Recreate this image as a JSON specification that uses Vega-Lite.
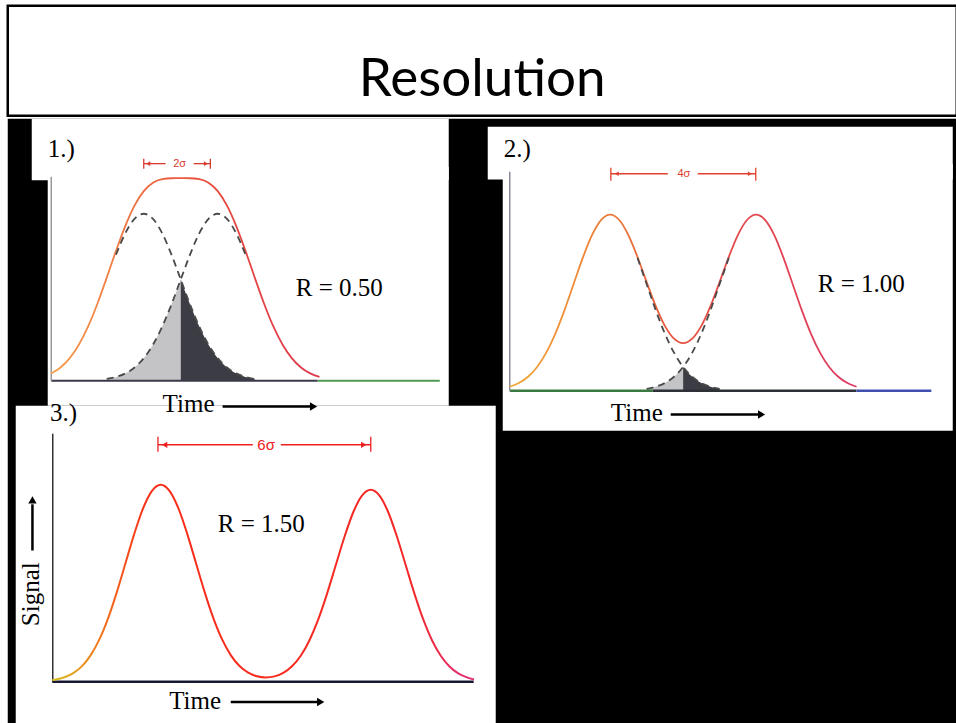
{
  "$schema": "https://vega.github.io/schema/vega-lite/v6.json",
  "background": "white",
  "padding": {"left": 5.75, "top": 3.75, "right": 0, "bottom": 0},
  "spacing": 0,
  "config": {"view": {"stroke": null}, "concat": {"spacing": 0}},
  "datasets": {
    "p1_sum": [
      {"t": 0, "s": 0.0439}, {"t": 0.25, "s": 0.0797}, {"t": 0.5, "s": 0.1356}, {"t": 0.75, "s": 0.2172},
      {"t": 1.0, "s": 0.3269}, {"t": 1.25, "s": 0.4629}, {"t": 1.5, "s": 0.6176}, {"t": 1.75, "s": 0.7776},
      {"t": 2.0, "s": 0.9264}, {"t": 2.25, "s": 1.0488}, {"t": 2.5, "s": 1.1353}, {"t": 2.75, "s": 1.1855},
      {"t": 3.0, "s": 1.2072}, {"t": 3.25, "s": 1.2126}, {"t": 3.5, "s": 1.213}, {"t": 3.75, "s": 1.2126},
      {"t": 4.0, "s": 1.2072}, {"t": 4.25, "s": 1.1855}, {"t": 4.5, "s": 1.1353}, {"t": 4.75, "s": 1.0488},
      {"t": 5.0, "s": 0.9264}, {"t": 5.25, "s": 0.7776}, {"t": 5.5, "s": 0.6176}, {"t": 5.75, "s": 0.4629},
      {"t": 6.0, "s": 0.3269}, {"t": 6.25, "s": 0.2172}, {"t": 6.5, "s": 0.1356}, {"t": 6.75, "s": 0.0797},
      {"t": 7.0, "s": 0.0439}, {"t": 7.25, "s": 0.0228}
    ],
    "p1_g1": [
      {"t": 1.75, "s": 0.7548}, {"t": 2.0, "s": 0.8825}, {"t": 2.25, "s": 0.9692}, {"t": 2.5, "s": 1},
      {"t": 2.75, "s": 0.9692}, {"t": 3.0, "s": 0.8825}, {"t": 3.25, "s": 0.7548}, {"t": 3.5, "s": 0.6065},
      {"t": 3.75, "s": 0.4578}, {"t": 4.0, "s": 0.3247}, {"t": 4.25, "s": 0.2163}, {"t": 4.5, "s": 0.1353},
      {"t": 4.75, "s": 0.0796}, {"t": 5.0, "s": 0.0439}, {"t": 5.25, "s": 0.0228}, {"t": 5.5, "s": 0.0111}
    ],
    "p1_g2": [
      {"t": 1.5, "s": 0.0111}, {"t": 1.75, "s": 0.0228}, {"t": 2.0, "s": 0.0439}, {"t": 2.25, "s": 0.0796},
      {"t": 2.5, "s": 0.1353}, {"t": 2.75, "s": 0.2163}, {"t": 3.0, "s": 0.3247}, {"t": 3.25, "s": 0.4578},
      {"t": 3.5, "s": 0.6065}, {"t": 3.75, "s": 0.7548}, {"t": 4.0, "s": 0.8825}, {"t": 4.25, "s": 0.9692},
      {"t": 4.5, "s": 1}, {"t": 4.75, "s": 0.9692}, {"t": 5.0, "s": 0.8825}, {"t": 5.25, "s": 0.7548}
    ],
    "p1_light": [
      {"t": 1.5, "s": 0.0111}, {"t": 1.75, "s": 0.0228}, {"t": 2.0, "s": 0.0439}, {"t": 2.25, "s": 0.0796},
      {"t": 2.5, "s": 0.1353}, {"t": 2.75, "s": 0.2163}, {"t": 3.0, "s": 0.3247}, {"t": 3.25, "s": 0.4578},
      {"t": 3.5, "s": 0.6065}
    ],
    "p1_dark": [
      {"t": 3.5, "s": 0.6065}, {"t": 3.75, "s": 0.4578}, {"t": 4.0, "s": 0.3247}, {"t": 4.25, "s": 0.2163},
      {"t": 4.5, "s": 0.1353}, {"t": 4.75, "s": 0.0796}, {"t": 5.0, "s": 0.0439}, {"t": 5.25, "s": 0.0228},
      {"t": 5.5, "s": 0.0111}
    ],
    "p2_sum": [
      {"t": 0, "s": 0.0228}, {"t": 0.25, "s": 0.0439}, {"t": 0.5, "s": 0.0796}, {"t": 0.75, "s": 0.1353},
      {"t": 1.0, "s": 0.2163}, {"t": 1.25, "s": 0.3247}, {"t": 1.5, "s": 0.4578}, {"t": 1.75, "s": 0.6065},
      {"t": 2.0, "s": 0.7548}, {"t": 2.25, "s": 0.8825}, {"t": 2.5, "s": 0.9693}, {"t": 2.75, "s": 1.0003},
      {"t": 3.0, "s": 0.9701}, {"t": 3.25, "s": 0.8847}, {"t": 3.5, "s": 0.7599}, {"t": 3.75, "s": 0.6176},
      {"t": 4.0, "s": 0.4806}, {"t": 4.25, "s": 0.3686}, {"t": 4.5, "s": 0.2959}, {"t": 4.75, "s": 0.2706},
      {"t": 5.0, "s": 0.2959}, {"t": 5.25, "s": 0.3686}, {"t": 5.5, "s": 0.4806}, {"t": 5.75, "s": 0.6176},
      {"t": 6.0, "s": 0.7599}, {"t": 6.25, "s": 0.8847}, {"t": 6.5, "s": 0.9701}, {"t": 6.75, "s": 1.0003},
      {"t": 7.0, "s": 0.9693}, {"t": 7.25, "s": 0.8825}, {"t": 7.5, "s": 0.7548}, {"t": 7.75, "s": 0.6065},
      {"t": 8.0, "s": 0.4578}, {"t": 8.25, "s": 0.3247}, {"t": 8.5, "s": 0.2163}, {"t": 8.75, "s": 0.1353},
      {"t": 9.0, "s": 0.0796}, {"t": 9.25, "s": 0.0439}, {"t": 9.5, "s": 0.0228}
    ],
    "p2_g1": [
      {"t": 3.5, "s": 0.7548}, {"t": 3.75, "s": 0.6065}, {"t": 4.0, "s": 0.4578}, {"t": 4.25, "s": 0.3247},
      {"t": 4.5, "s": 0.2163}, {"t": 4.75, "s": 0.1353}, {"t": 5.0, "s": 0.0796}, {"t": 5.25, "s": 0.0439},
      {"t": 5.5, "s": 0.0228}, {"t": 5.75, "s": 0.0111}
    ],
    "p2_g2": [
      {"t": 3.75, "s": 0.0111}, {"t": 4.0, "s": 0.0228}, {"t": 4.25, "s": 0.0439}, {"t": 4.5, "s": 0.0796},
      {"t": 4.75, "s": 0.1353}, {"t": 5.0, "s": 0.2163}, {"t": 5.25, "s": 0.3247}, {"t": 5.5, "s": 0.4578},
      {"t": 5.75, "s": 0.6065}, {"t": 6.0, "s": 0.7548}
    ],
    "p2_light": [
      {"t": 3.75, "s": 0.0111}, {"t": 4.0, "s": 0.0228}, {"t": 4.25, "s": 0.0439}, {"t": 4.5, "s": 0.0796},
      {"t": 4.75, "s": 0.1353}
    ],
    "p2_dark": [
      {"t": 4.75, "s": 0.1353}, {"t": 5.0, "s": 0.0796}, {"t": 5.25, "s": 0.0439}, {"t": 5.5, "s": 0.0228},
      {"t": 5.75, "s": 0.0111}
    ],
    "p3_sum": [
      {"t": -0.1, "s": 0.0083}, {"t": 0, "s": 0.0112}, {"t": 0.25, "s": 0.023}, {"t": 0.5, "s": 0.0443},
      {"t": 0.75, "s": 0.0804}, {"t": 1.0, "s": 0.1367}, {"t": 1.25, "s": 0.2185}, {"t": 1.5, "s": 0.3279},
      {"t": 1.75, "s": 0.4624}, {"t": 2.0, "s": 0.6126}, {"t": 2.25, "s": 0.7623}, {"t": 2.5, "s": 0.8913},
      {"t": 2.75, "s": 0.9789}, {"t": 3.0, "s": 1.01}, {"t": 3.25, "s": 0.9789}, {"t": 3.5, "s": 0.8913},
      {"t": 3.75, "s": 0.7623}, {"t": 4.0, "s": 0.6126}, {"t": 4.25, "s": 0.4624}, {"t": 4.5, "s": 0.3279},
      {"t": 4.75, "s": 0.2185}, {"t": 5.0, "s": 0.1367}, {"t": 5.25, "s": 0.0804}, {"t": 5.5, "s": 0.0465},
      {"t": 5.75, "s": 0.028}, {"t": 6.0, "s": 0.0221}, {"t": 6.25, "s": 0.0277}, {"t": 6.5, "s": 0.0454},
      {"t": 6.75, "s": 0.0793}, {"t": 7.0, "s": 0.1333}, {"t": 7.25, "s": 0.2131}, {"t": 7.5, "s": 0.3198},
      {"t": 7.75, "s": 0.4509}, {"t": 8.0, "s": 0.5974}, {"t": 8.25, "s": 0.7435}, {"t": 8.5, "s": 0.8693},
      {"t": 8.75, "s": 0.9547}, {"t": 9.0, "s": 0.985}, {"t": 9.25, "s": 0.9547}, {"t": 9.5, "s": 0.8693},
      {"t": 9.75, "s": 0.7435}, {"t": 10.0, "s": 0.5974}, {"t": 10.25, "s": 0.4509}, {"t": 10.5, "s": 0.3198},
      {"t": 10.75, "s": 0.2131}, {"t": 11.0, "s": 0.1333}, {"t": 11.25, "s": 0.0784}, {"t": 11.5, "s": 0.0432},
      {"t": 11.75, "s": 0.0225}, {"t": 11.95, "s": 0.012}
    ]
  },
  "vconcat": [
    {
      "width": 949,
      "height": 110,
      "view": {"fill": "white", "stroke": "black", "strokeWidth": 2.5},
      "data": {"values": [{"label": "Resolution"}]},
      "mark": {"type": "text", "font": "Lato", "fontSize": 53, "color": "black", "align": "center", "baseline": "alphabetic", "dy": 35},
      "encoding": {"text": {"field": "label", "type": "nominal"}}
    },
    {
      "width": 949,
      "height": 608,
      "view": {"fill": "black", "stroke": null},
      "resolve": {"scale": {"x": "independent", "y": "independent"}},
      "layer": [
        {
          "encoding": {
            "x": {"field": "t", "type": "quantitative", "axis": null, "scale": {"domain": [0, 10], "range": [43.5, 413.5], "nice": false, "zero": false}},
            "y": {"field": "s", "type": "quantitative", "axis": null, "scale": {"domain": [0, 1], "range": [262, 95], "nice": false, "zero": false}}
          },
          "layer": [
            {"data": {"values": [{"t": -0.527, "t2": 10.743, "s": 1.2, "s2": 1.569}, {"t": -0.095, "t2": 10.743, "s": -0.15, "s2": 1.281}]},
             "mark": {"type": "rect", "color": "white", "strokeWidth": 0}, "encoding": {"x2": {"field": "t2"}, "y2": {"field": "s2"}}},
            {"data": {"name": "p1_light"}, "mark": {"type": "area", "color": "#c4c4c6", "interpolate": "monotone"}, "encoding": {"y2": {"datum": 0}}},
            {"data": {"name": "p1_dark"}, "mark": {"type": "area", "color": "#3c3c44", "interpolate": "monotone"}, "encoding": {"y2": {"datum": 0}}},
            {"data": {"values": [{"t": 0, "t2": 7.2, "s": 0}]}, "mark": {"type": "rule", "color": "#3a3a4a", "strokeWidth": 2}, "encoding": {"x2": {"field": "t2"}}},
            {"data": {"values": [{"t": 7.2, "t2": 10.5, "s": 0}]}, "mark": {"type": "rule", "color": "#4f9a55", "strokeWidth": 2}, "encoding": {"x2": {"field": "t2"}}},
            {"data": {"values": [{"t": 0, "s": 0, "s2": 1.222}]}, "mark": {"type": "rule", "color": "#9a9a9a", "strokeWidth": 1.5}, "encoding": {"y2": {"field": "s2"}}},
            {"data": {"name": "p1_sum"}, "mark": {"type": "line", "interpolate": "monotone", "strokeWidth": 1.8,
              "color": {"gradient": "linear", "x1": 0, "y1": 0, "x2": 1, "y2": 0, "stops": [{"offset": 0, "color": "#f5a050"}, {"offset": 0.35, "color": "#ee6a40"}, {"offset": 0.6, "color": "#e84a3c"}, {"offset": 1, "color": "#dc3a50"}]}}},
            {"data": {"name": "p1_g1"}, "mark": {"type": "line", "interpolate": "monotone", "strokeWidth": 1.8, "color": "#4a4a4a", "strokeDash": [7, 5]}},
            {"data": {"name": "p1_g2"}, "mark": {"type": "line", "interpolate": "monotone", "strokeWidth": 1.8, "color": "#4a4a4a", "strokeDash": [7, 5]}},
            {"data": {"values": [{"t": 2.5, "s": 1.269, "s2": 1.329}, {"t": 4.3, "s": 1.269, "s2": 1.329}]}, "mark": {"type": "rule", "color": "#d83a30", "strokeWidth": 1.3}, "encoding": {"y2": {"field": "s2"}}},
            {"data": {"values": [{"t": 2.5, "t2": 3.09, "s": 1.3}, {"t": 3.85, "t2": 4.3, "s": 1.3}]}, "mark": {"type": "rule", "color": "#d83a30", "strokeWidth": 1.3}, "encoding": {"x2": {"field": "t2"}}},
            {"data": {"values": [{"t": 2.62, "s": 1.3}]}, "mark": {"type": "point", "shape": "triangle-left", "filled": true, "opacity": 1, "size": 22, "color": "#d83a30"}},
            {"data": {"values": [{"t": 4.18, "s": 1.3}]}, "mark": {"type": "point", "shape": "triangle-right", "filled": true, "opacity": 1, "size": 22, "color": "#d83a30"}},
            {"data": {"values": [{"t": 3.47, "s": 1.3, "label": "2σ"}]}, "mark": {"type": "text", "font": "Liberation Sans", "fontSize": 11, "color": "#d83a30", "align": "center", "baseline": "middle"}, "encoding": {"text": {"field": "label", "type": "nominal"}}},
            {"data": {"values": [{"t": -0.095, "s": 1.338, "label": "1.)"}, {"t": 6.61, "s": 0.509, "label": "R = 0.50"}]},
             "mark": {"type": "text", "font": "Liberation Serif", "fontSize": 25, "color": "black", "align": "left", "baseline": "alphabetic"}, "encoding": {"text": {"field": "label", "type": "nominal"}}}
          ]
        },
        {
          "encoding": {
            "x": {"field": "t", "type": "quantitative", "axis": null, "scale": {"domain": [0, 10], "range": [502, 867], "nice": false, "zero": false}},
            "y": {"field": "s", "type": "quantitative", "axis": null, "scale": {"domain": [0, 1], "range": [272, 96], "nice": false, "zero": false}}
          },
          "layer": [
            {"data": {"values": [{"t": -0.603, "t2": 12.137, "s": 1.2, "s2": 1.5}, {"t": -0.192, "t2": 12.137, "s": -0.227, "s2": 1.29}]},
             "mark": {"type": "rect", "color": "white", "strokeWidth": 0}, "encoding": {"x2": {"field": "t2"}, "y2": {"field": "s2"}}},
            {"data": {"name": "p2_light"}, "mark": {"type": "area", "color": "#c4c4c6", "interpolate": "monotone"}, "encoding": {"y2": {"datum": 0}}},
            {"data": {"name": "p2_dark"}, "mark": {"type": "area", "color": "#3c3c44", "interpolate": "monotone"}, "encoding": {"y2": {"datum": 0}}},
            {"data": {"values": [{"t": 0, "t2": 3.92, "s": 0}]}, "mark": {"type": "rule", "color": "#3a7a40", "strokeWidth": 2.5}, "encoding": {"x2": {"field": "t2"}}},
            {"data": {"values": [{"t": 3.92, "t2": 9.5, "s": 0}]}, "mark": {"type": "rule", "color": "#2e3038", "strokeWidth": 2.5}, "encoding": {"x2": {"field": "t2"}}},
            {"data": {"values": [{"t": 9.5, "t2": 11.55, "s": 0}]}, "mark": {"type": "rule", "color": "#4050b0", "strokeWidth": 2.5}, "encoding": {"x2": {"field": "t2"}}},
            {"data": {"values": [{"t": 0, "s": 0, "s2": 1.244}]}, "mark": {"type": "rule", "color": "#8a8a9a", "strokeWidth": 1.5}, "encoding": {"y2": {"field": "s2"}}},
            {"data": {"name": "p2_sum"}, "mark": {"type": "line", "interpolate": "monotone", "strokeWidth": 1.8,
              "color": {"gradient": "linear", "x1": 0, "y1": 0, "x2": 1, "y2": 0, "stops": [{"offset": 0, "color": "#f0a838"}, {"offset": 0.3, "color": "#ec7838"}, {"offset": 0.5, "color": "#e65040"}, {"offset": 1, "color": "#de3a62"}]}}},
            {"data": {"name": "p2_g1"}, "mark": {"type": "line", "interpolate": "monotone", "strokeWidth": 1.8, "color": "#4a4a4a", "strokeDash": [7, 5]}},
            {"data": {"name": "p2_g2"}, "mark": {"type": "line", "interpolate": "monotone", "strokeWidth": 1.8, "color": "#4a4a4a", "strokeDash": [7, 5]}},
            {"data": {"values": [{"t": 2.77, "s": 1.193, "s2": 1.267}, {"t": 6.74, "s": 1.193, "s2": 1.267}]}, "mark": {"type": "rule", "color": "#e0402c", "strokeWidth": 1.3}, "encoding": {"y2": {"field": "s2"}}},
            {"data": {"values": [{"t": 2.77, "t2": 4.33, "s": 1.233}, {"t": 5.15, "t2": 6.74, "s": 1.233}]}, "mark": {"type": "rule", "color": "#e0402c", "strokeWidth": 1.3}, "encoding": {"x2": {"field": "t2"}}},
            {"data": {"values": [{"t": 2.93, "s": 1.233}]}, "mark": {"type": "point", "shape": "triangle-left", "filled": true, "opacity": 1, "size": 22, "color": "#e0402c"}},
            {"data": {"values": [{"t": 6.58, "s": 1.233}]}, "mark": {"type": "point", "shape": "triangle-right", "filled": true, "opacity": 1, "size": 22, "color": "#e0402c"}},
            {"data": {"values": [{"t": 4.77, "s": 1.233, "label": "4σ"}]}, "mark": {"type": "text", "font": "Liberation Sans", "fontSize": 11, "color": "#d8402c", "align": "center", "baseline": "middle"}, "encoding": {"text": {"field": "label", "type": "nominal"}}},
            {"data": {"values": [{"t": -0.164, "s": 1.33, "label": "2.)"}, {"t": 8.44, "s": 0.5625, "label": "R = 1.00"}, {"t": 2.77, "s": -0.17, "label": "Time"}]},
             "mark": {"type": "text", "font": "Liberation Serif", "fontSize": 25, "color": "black", "align": "left", "baseline": "alphabetic"}, "encoding": {"text": {"field": "label", "type": "nominal"}}},
            {"data": {"values": [{"t": 4.41, "t2": 6.85, "s": -0.135}]}, "mark": {"type": "rule", "color": "black", "strokeWidth": 2.5}, "encoding": {"x2": {"field": "t2"}}},
            {"data": {"values": [{"t": 6.9, "s": -0.135}]}, "mark": {"type": "point", "shape": "triangle-right", "filled": true, "opacity": 1, "size": 70, "color": "black"}}
          ]
        },
        {
          "encoding": {
            "x": {"field": "t", "type": "quantitative", "axis": null, "scale": {"domain": [0, 10], "range": [48, 398], "nice": false, "zero": false}},
            "y": {"field": "s", "type": "quantitative", "axis": null, "scale": {"domain": [0, 1], "range": [563, 368], "nice": false, "zero": false}}
          },
          "layer": [
            {"data": {"values": [{"t": -1.143, "t2": 12.571, "s": -0.215, "s2": 1.415}]},
             "mark": {"type": "rect", "color": "white", "strokeWidth": 0}, "encoding": {"x2": {"field": "t2"}, "y2": {"field": "s2"}}},
            {"data": {"values": [{"t": -0.1, "t2": 11.94, "s": 0}]}, "mark": {"type": "rule", "color": "#181830", "strokeWidth": 2.5}, "encoding": {"x2": {"field": "t2"}}},
            {"data": {"values": [{"t": -0.086, "s": 0, "s2": 1.272}]}, "mark": {"type": "rule", "color": "#303030", "strokeWidth": 1.5}, "encoding": {"y2": {"field": "s2"}}},
            {"data": {"name": "p3_sum"}, "mark": {"type": "line", "interpolate": "monotone", "strokeWidth": 2,
              "color": {"gradient": "linear", "x1": 0, "y1": 0, "x2": 1, "y2": 0, "stops": [{"offset": 0, "color": "#d8c020"}, {"offset": 0.1, "color": "#f08020"}, {"offset": 0.22, "color": "#f83018"}, {"offset": 0.85, "color": "#f42828"}, {"offset": 1, "color": "#e0307a"}]}}},
            {"data": {"values": [{"t": 2.92, "s": 1.179, "s2": 1.256}, {"t": 9.0, "s": 1.179, "s2": 1.256}]}, "mark": {"type": "rule", "color": "#ee2020", "strokeWidth": 1.3}, "encoding": {"y2": {"field": "s2"}}},
            {"data": {"values": [{"t": 2.92, "t2": 5.63, "s": 1.215}, {"t": 6.43, "t2": 9.0, "s": 1.215}]}, "mark": {"type": "rule", "color": "#ee2020", "strokeWidth": 1.5}, "encoding": {"x2": {"field": "t2"}}},
            {"data": {"values": [{"t": 3.11, "s": 1.215}]}, "mark": {"type": "point", "shape": "triangle-left", "filled": true, "opacity": 1, "size": 40, "color": "#ee2020"}},
            {"data": {"values": [{"t": 8.8, "s": 1.215}]}, "mark": {"type": "point", "shape": "triangle-right", "filled": true, "opacity": 1, "size": 40, "color": "#ee2020"}},
            {"data": {"values": [{"t": 6.01, "s": 1.215, "label": "6σ"}]}, "mark": {"type": "text", "font": "Liberation Sans", "fontSize": 15, "color": "#ee2020", "align": "center", "baseline": "middle"}, "encoding": {"text": {"field": "label", "type": "nominal"}}},
            {"data": {"values": [{"t": -0.163, "s": 1.338, "label": "3.)"}, {"t": 4.63, "s": 0.769, "label": "R = 1.50"}, {"t": 3.24, "s": -0.138, "label": "Time"}]},
             "mark": {"type": "text", "font": "Liberation Serif", "fontSize": 25, "color": "black", "align": "left", "baseline": "alphabetic"}, "encoding": {"text": {"field": "label", "type": "nominal"}}},
            {"data": {"values": [{"t": -0.486, "s": 0.449, "label": "Signal"}]},
             "mark": {"type": "text", "font": "Liberation Serif", "fontSize": 25, "color": "black", "align": "center", "baseline": "alphabetic", "angle": 270}, "encoding": {"text": {"field": "label", "type": "nominal"}}},
            {"data": {"values": [{"t": 5.0, "t2": 7.52, "s": -0.104}]}, "mark": {"type": "rule", "color": "black", "strokeWidth": 2.5}, "encoding": {"x2": {"field": "t2"}}},
            {"data": {"values": [{"t": 7.57, "s": -0.104}]}, "mark": {"type": "point", "shape": "triangle-right", "filled": true, "opacity": 1, "size": 70, "color": "black"}},
            {"data": {"values": [{"t": -0.666, "s": 0.673, "s2": 0.91}]}, "mark": {"type": "rule", "color": "black", "strokeWidth": 2.5}, "encoding": {"y2": {"field": "s2"}}},
            {"data": {"values": [{"t": -0.666, "s": 0.933}]}, "mark": {"type": "point", "shape": "triangle-up", "filled": true, "opacity": 1, "size": 70, "color": "black"}}
          ]
        },
        {
          "encoding": {
            "x": {"field": "t", "type": "quantitative", "axis": null, "scale": {"domain": [0, 10], "range": [43.5, 413.5], "nice": false, "zero": false}},
            "y": {"field": "s", "type": "quantitative", "axis": null, "scale": {"domain": [0, 1], "range": [262, 95], "nice": false, "zero": false}}
          },
          "layer": [
            {"data": {"values": [{"t": 3.01, "s": -0.186, "label": "Time"}]},
             "mark": {"type": "text", "font": "Liberation Serif", "fontSize": 25, "color": "black", "align": "left", "baseline": "alphabetic"}, "encoding": {"text": {"field": "label", "type": "nominal"}}},
            {"data": {"values": [{"t": 4.63, "t2": 7.05, "s": -0.154}]}, "mark": {"type": "rule", "color": "black", "strokeWidth": 2.5}, "encoding": {"x2": {"field": "t2"}}},
            {"data": {"values": [{"t": 7.09, "s": -0.154}]}, "mark": {"type": "point", "shape": "triangle-right", "filled": true, "opacity": 1, "size": 70, "color": "black"}}
          ]
        }
      ]
    }
  ]
}
